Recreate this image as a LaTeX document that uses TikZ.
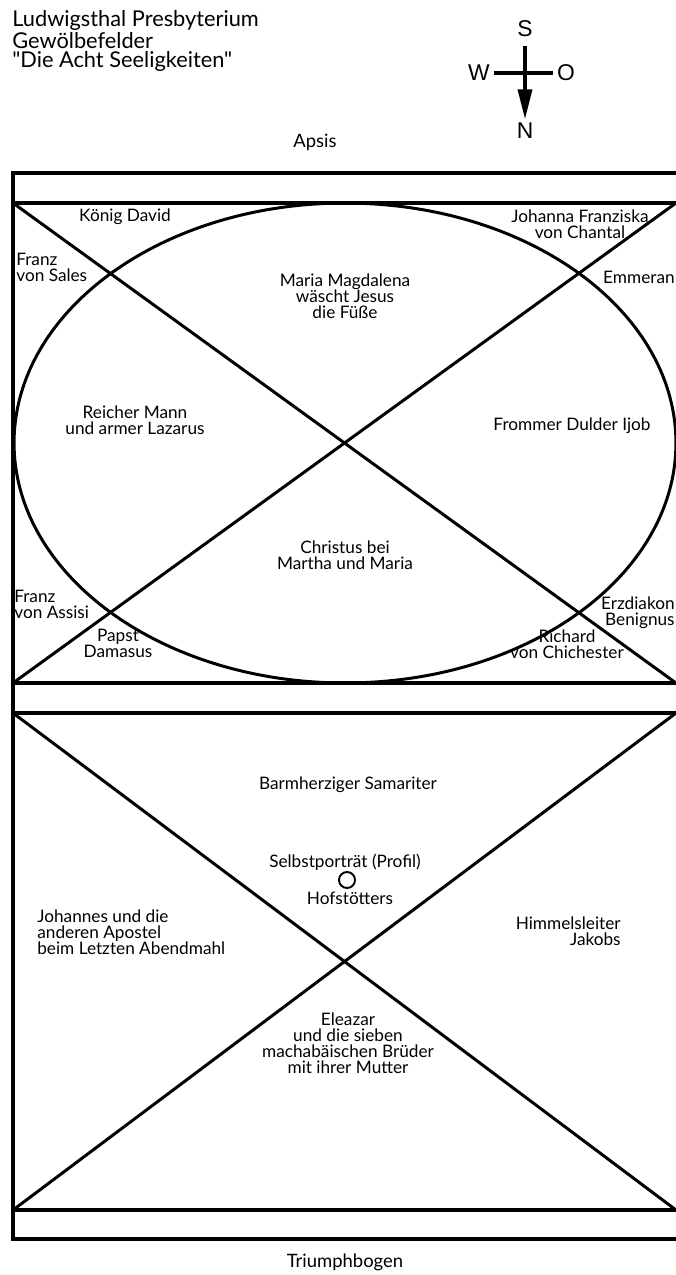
\documentclass[tikz,border=0pt]{standalone}
\usepackage{fontspec}
\setmainfont{Lato}[Ligatures=TeXOff]
\newfontfamily\compassfont{Liberation Sans}
\usetikzlibrary{positioning, arrows.meta, shapes.geometric}

\begin{document}
\begin{tikzpicture}[x=0.02cm, y=-0.02cm, >=Latex,
  wall/.style={line width=2pt},
  rib/.style={line width=1.7pt},
  lbl/.style={align=center,inner sep=0pt,font=\fontsize{9.8}{9.2}\selectfont},
  lbll/.style={lbl,align=left},
  lblr/.style={lbl,align=right},
  hdr/.style={inner sep=0pt,align=left,font=\fontsize{12.4}{10.8}\selectfont},
  cmp/.style={inner sep=0pt,font=\compassfont\fontsize{13}{13}\selectfont}]
  \useasboundingbox (0,0) rectangle (676,1275);

  % title and compass
  \node[hdr, anchor=north west] (title) at (12,10) {Ludwigsthal Presbyterium\\Gew\"olbefelder\\"Die Acht Seeligkeiten"};
  \node[cmp] (s) at (525,29) {S};
  \node[cmp] (n) at (525,131) {N};
  \node[cmp] (w) at (479,73) {W};
  \node[cmp] (o) at (566,73) {O};
  \draw[line width=1.8pt, shorten <=2pt, shorten >=2pt] (w.east) -- (o.west);
  \draw[line width=2pt, shorten <=5pt, shorten >=2pt, -{Triangle[length=0.6cm,width=0.28cm]}] (s.south) -- (n.north);

  \node[lbl, font=\fontsize{10.5}{10}\selectfont] (apsis) at (315,142) {Apsis};
  \node[lbl, font=\fontsize{10.5}{10}\selectfont] (bogen) at (345,1262) {Triumphbogen};

  % frame
  \coordinate (o-nw) at (13,173);
  \coordinate (o-ne) at (678,173);
  \coordinate (o-sw) at (13,1239);
  \coordinate (o-se) at (678,1239);
  \coordinate (a-nw) at (13,203);
  \coordinate (a-ne) at (676,203);
  \coordinate (a-sw) at (13,683);
  \coordinate (a-se) at (676,683);
  \coordinate (b-nw) at (13,713);
  \coordinate (b-ne) at (676,713);
  \coordinate (b-sw) at (13,1210);
  \coordinate (b-se) at (676,1210);
  \draw[wall] (o-ne) -- (o-nw) -- (o-sw) -- (o-se);
  \draw[wall] (a-nw) -- ++(665,0);
  \draw[wall] (a-sw) -- ++(665,0);
  \draw[wall] (b-nw) -- ++(665,0);
  \draw[wall] (b-sw) -- ++(665,0);

  % vault ribs
  \draw[rib] (a-nw) -- (a-se);
  \draw[rib] (a-sw) -- (a-ne);
  \draw[rib] (b-nw) -- (b-se);
  \draw[rib] (b-sw) -- (b-ne);
  \draw[rib] (345,443) ellipse [x radius=6.62cm, y radius=4.8cm];
  \draw[line width=1.1pt] (347,880) circle [radius=0.16cm];

  % upper bay
  \node[lbl] (david) at (125,217) {K\"onig David};
  \node[lbl] (chantal) at (580,224) {Johanna Franziska\\von Chantal};
  \node[lbll, anchor=west] (sales) at (16,267) {Franz\\von Sales};
  \node[lbll, anchor=east] (emmeran) at (675,277) {Emmeran};
  \node[lbl] (magdalena) at (345,296) {Maria Magdalena\\w\"ascht Jesus\\die F\"u\ss e};
  \node[lbl] (lazarus) at (135,420) {Reicher Mann\\und armer Lazarus};
  \node[lbl] (ijob) at (572,426) {Frommer Dulder Ijob};
  \node[lbl] (martha) at (345,555) {Christus bei\\Martha und Maria};
  \node[lbll, anchor=west] (assisi) at (14,604) {Franz\\von Assisi};
  \node[lbl] (damasus) at (118,643) {Papst\\Damasus};
  \node[lblr, anchor=east] (benignus) at (675,613) {Erzdiakon\\Benignus};
  \node[lbl] (richard) at (567,644) {Richard\\von Chichester};

  % lower bay
  \node[lbl] (samariter) at (348,785) {Barmherziger Samariter};
  \node[lbl] (selbst) at (345,862) {Selbstportr\"at (Profil)};
  \node[lbl] (hof) at (350,898) {Hofst\"otters};
  \node[lbll, anchor=west] (apostel) at (37,932) {Johannes und die\\anderen Apostel\\beim Letzten Abendmahl};
  \node[lblr, anchor=east] (jakob) at (621,931) {Himmelsleiter\\Jakobs};
  \node[lbl] (eleazar) at (348,1043) {Eleazar\\und die sieben\\machab\"aischen Br\"uder\\mit ihrer Mutter};
\end{tikzpicture}
\end{document}
